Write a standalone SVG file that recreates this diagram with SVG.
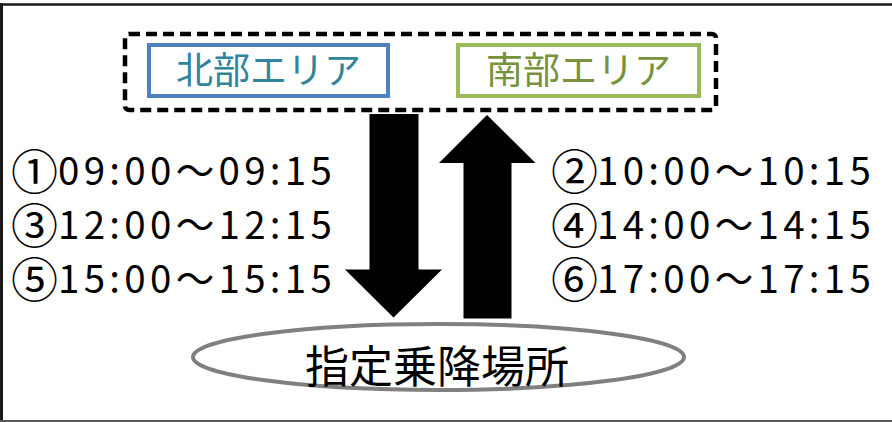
<svg xmlns="http://www.w3.org/2000/svg" width="892" height="422" viewBox="0 0 892 422">
<style>
.t{font-family:"Noto Sans CJK JP","Liberation Sans",sans-serif;font-size:38.5px;fill:#000}
.c{font-size:47px;letter-spacing:0}
.d{letter-spacing:4.3px}
.area{font-family:"Noto Sans CJK JP",sans-serif;font-size:37px}
</style>
<rect width="892" height="422" fill="#fff"/>
<g id="frame" fill="none">
<line x1="0" y1="4.5" x2="892" y2="4.5" stroke="#1a1a1a" stroke-width="2.5"/>
<line x1="1.5" y1="3" x2="1.5" y2="422" stroke="#1a1a1a" stroke-width="3"/>
<line x1="0" y1="421" x2="892" y2="421" stroke="#595959" stroke-width="2"/>
</g>
<g id="group-areas">
<rect x="125" y="34" width="591" height="76" rx="4" fill="none" stroke="#000" stroke-width="4.5" stroke-dasharray="11,6"/>
</g>
<g id="north">
<rect x="149" y="45" width="239" height="51" fill="#fff" stroke="#4F81BD" stroke-width="4"/>
<text class="area" x="268.5" y="84" text-anchor="middle" fill="#31849B">北部エリア</text>
</g>
<g id="south">
<rect x="458" y="45" width="241" height="51" fill="#fff" stroke="#9BBB59" stroke-width="4"/>
<text class="area" x="578.5" y="84" text-anchor="middle" fill="#76923C">南部エリア</text>
</g>
<g id="connectors">
<polygon points="369.5,114 418.5,114 418.5,269.5 442,269.5 393.5,317.5 345,269.5 369.5,269.5" fill="#000"/>
<polygon points="487,115 535.5,163 511.5,163 511.5,318.5 463.5,318.5 463.5,163 439,163" fill="#000"/>
</g>
<g id="place">
<ellipse cx="438.5" cy="357" rx="245.5" ry="33" fill="#fff" stroke="#808080" stroke-width="4"/>
<text x="437" y="383" text-anchor="middle" font-family="Noto Sans CJK JP,sans-serif" font-size="44" fill="#000">指定乗降場所</text>
</g>
<g id="times-left">
<text class="t" x="11" y="189"><tspan class="c">①</tspan><tspan class="d" x="58" y="185">09:00～09:15</tspan></text>
<text class="t" x="11" y="243"><tspan class="c">③</tspan><tspan class="d" x="58" y="239">12:00～12:15</tspan></text>
<text class="t" x="11" y="297"><tspan class="c">⑤</tspan><tspan class="d" x="58" y="293">15:00～15:15</tspan></text>
</g>
<g id="times-right">
<text class="t" x="551" y="189"><tspan class="c">②</tspan><tspan class="d" x="597" y="185">10:00～10:15</tspan></text>
<text class="t" x="551" y="243"><tspan class="c">④</tspan><tspan class="d" x="597" y="239">14:00～14:15</tspan></text>
<text class="t" x="551" y="297"><tspan class="c">⑥</tspan><tspan class="d" x="597" y="293">17:00～17:15</tspan></text>
</g>
</svg>
